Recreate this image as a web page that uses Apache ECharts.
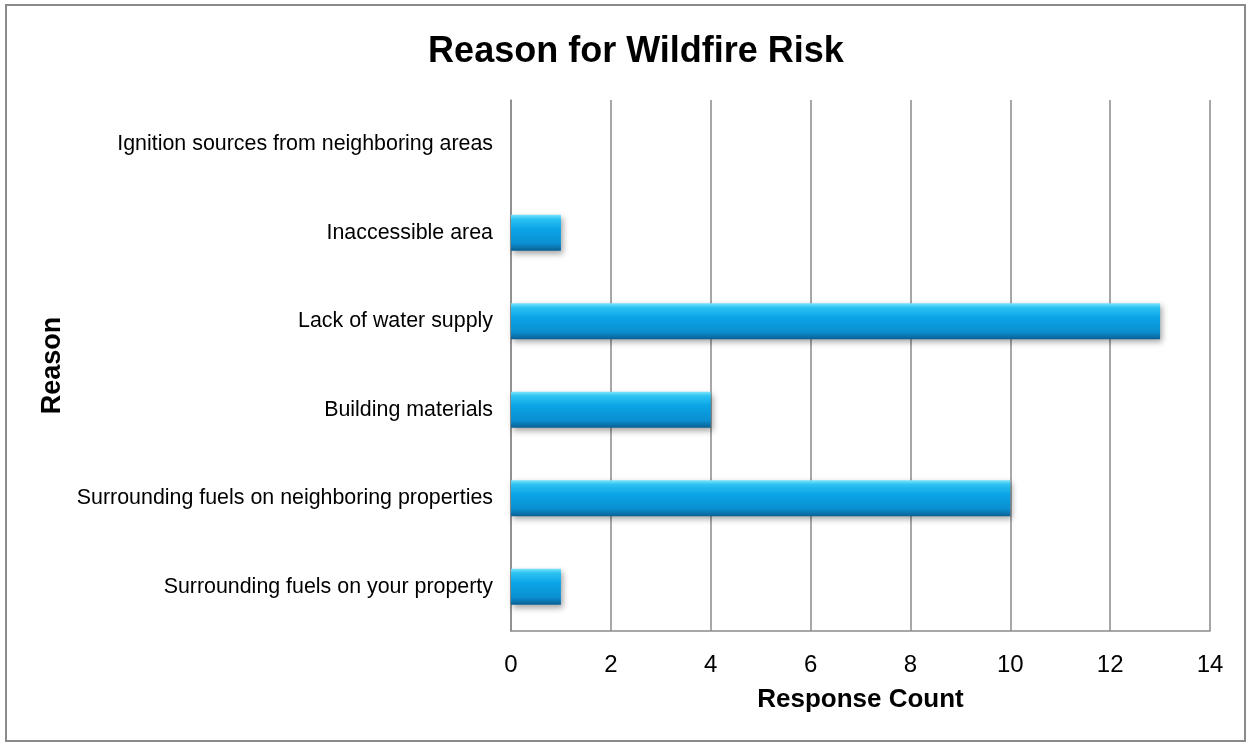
<!DOCTYPE html>
<html><head><meta charset="utf-8">
<script src="https://cdn.jsdelivr.net/npm/echarts@6/dist/echarts.min.js"></script>
<style>html,body{margin:0;padding:0;background:#fff}
#frame{position:absolute;left:5px;top:4px;width:1241px;height:738px;border:2px solid #8a8a8a;box-sizing:border-box}
#c{position:absolute;left:0;top:0;width:1254px;height:749px}</style>
</head><body><div id="frame"></div><div id="c"></div>
<script>
const categories = ["Surrounding fuels on your property","Surrounding fuels on neighboring properties","Building materials","Lack of water supply","Inaccessible area","Ignition sources from neighboring areas"];
const values = [1, 10, 4, 13, 1, 0];
const xTicks = [0, 2, 4, 6, 8, 10, 12, 14];
const chart = echarts.init(document.getElementById('c'), null, {renderer:'canvas'});
const font = "'Liberation Sans', Arial, sans-serif";
chart.setOption({
  animation:false,
  title:{text:'Reason for Wildfire Risk',left:631,top:29,textAlign:'center',textStyle:{fontFamily:font,fontSize:36,fontWeight:'bold',color:'#000'}},
  grid:{left:511,right:44,top:100,bottom:118,containLabel:false},
  xAxis:{type:'value',min:xTicks[0],max:xTicks[xTicks.length-1],interval:2,
    name:'Response Count',nameLocation:'middle',nameGap:56,nameTextStyle:{fontFamily:font,fontSize:26,fontWeight:'bold',color:'#000'},
    axisLine:{show:true,lineStyle:{color:'#8a8a8a',width:1.5}},axisTick:{show:false},
    axisLabel:{fontFamily:font,fontSize:24,color:'#000',margin:22},
    splitLine:{show:true,lineStyle:{color:'#8a8a8a',width:1.5}}},
  yAxis:{type:'category',data:categories,
    name:'Reason',nameLocation:'middle',nameGap:443,nameRotate:90,nameTextStyle:{fontFamily:font,fontSize:27,fontWeight:'bold',color:'#000'},
    axisLine:{show:true,lineStyle:{color:'#8a8a8a',width:1.5}},axisTick:{show:false},
    axisLabel:{fontFamily:font,fontSize:21.4,color:'#000',margin:18}},
  series:[{type:'bar',data:values,barWidth:36,
    itemStyle:{color:new echarts.graphic.LinearGradient(0,0,0,1,[
      {offset:0,color:'#7ae4fb'},{offset:0.12,color:'#2cc2f2'},{offset:0.4,color:'#0aa4e6'},{offset:0.8,color:'#0a8fd0'},{offset:1,color:'#0a5f93'}]),
      borderWidth:0,
      shadowColor:'rgba(0,0,0,0.35)',shadowBlur:6,shadowOffsetX:2,shadowOffsetY:3}}]
});
</script></body></html>
